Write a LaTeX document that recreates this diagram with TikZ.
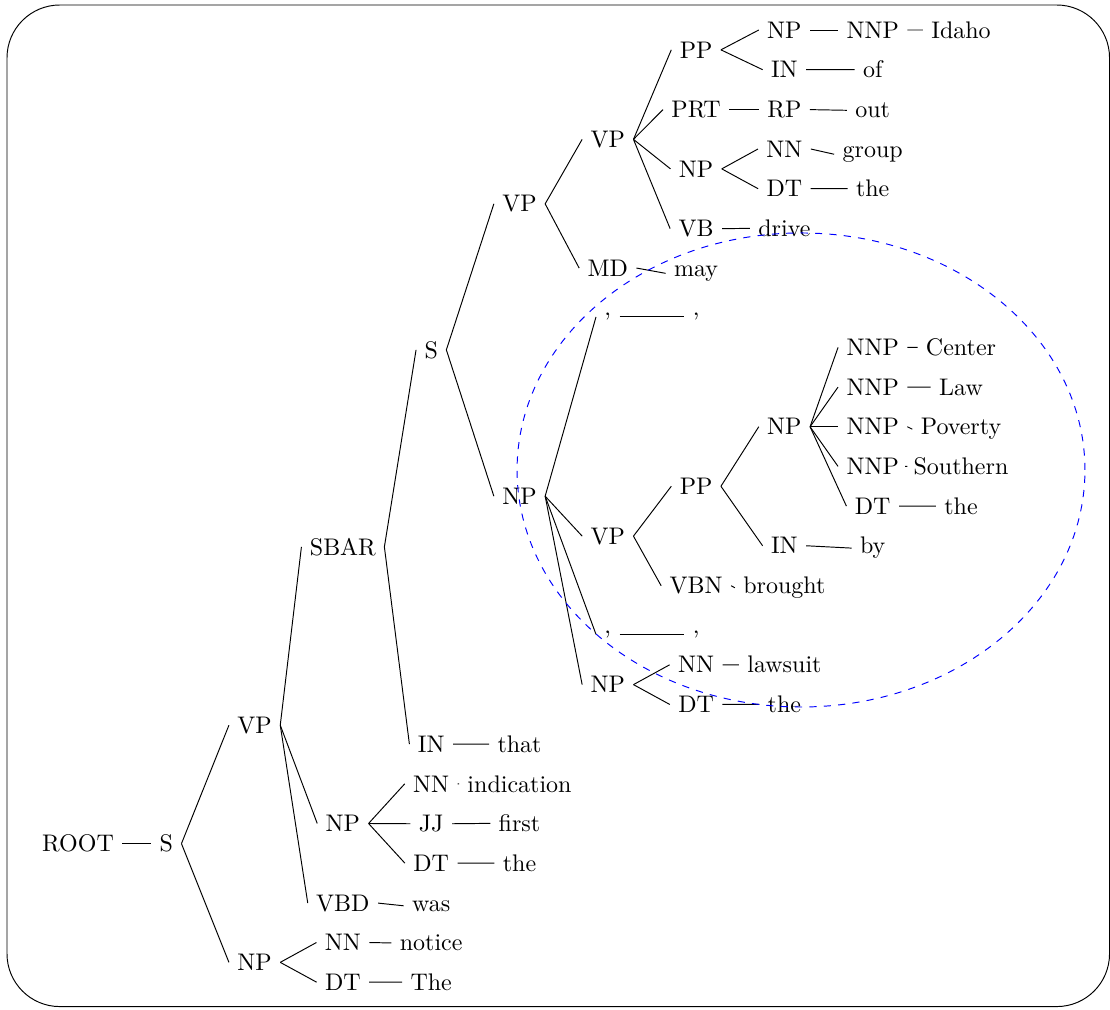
\documentclass[tikz,border=0pt]{standalone}
\begin{document}
\begin{tikzpicture}[x=36.79pt,y=-16.53pt,every node/.style={anchor=base,yshift=-3.42pt}]
\useasboundingbox (-0.8834,-0.7562) rectangle (11.6874,24.679);
\draw[rounded corners=22pt] (-0.8041,-0.630) rectangle (11.682,24.615);
\node (root) at (0,20.5078) {ROOT};
\node (s) at (1,20.5078) {S};
\node (vp) at (2,17.5156) {VP};
\node (np) at (2,23.5) {NP};
\node (sbar) at (3,13.0313) {SBAR};
\node (npb) at (3,20) {NP};
\node (vbd) at (3,22) {VBD};
\node (nnb) at (3,23) {NN};
\node (dtb) at (3,24) {DT};
\node (sc) at (4,8.0625) {S};
\node (inc) at (4,18) {IN};
\node (nnc) at (4,19) {NN};
\node (jjc) at (4,20) {JJ};
\node (dtc) at (4,21) {DT};
\node (wwas) at (4,22) {was};
\node (wnotice) at (4,23) {notice};
\node (wThe) at (4,24) {The};
\node (vpd) at (5,4.375) {VP};
\node (npd) at (5,11.75) {NP};
\node (wthat) at (5,18) {that};
\node (windication) at (5,19) {indication};
\node (wfirst) at (5,20) {first};
\node (wthec) at (5,21) {the};
\node (vpe) at (6,2.75) {VP};
\node (mde) at (6,6) {MD};
\node (come) at (6,7) {,};
\node (vpf) at (6,12.75) {VP};
\node (comf) at (6,15) {,};
\node (npf) at (6,16.5) {NP};
\node (ppg) at (7,0.5) {PP};
\node (prtg) at (7,2) {PRT};
\node (npg) at (7,3.5) {NP};
\node (vbg) at (7,5) {VB};
\node (wmay) at (7,6) {may};
\node (wcome) at (7,7) {,};
\node (pph) at (7,11.5) {PP};
\node (vbnh) at (7,14) {VBN};
\node (wcomf) at (7,15) {,};
\node (nnh) at (7,16) {NN};
\node (dth) at (7,17) {DT};
\node (npi) at (8,0) {NP};
\node (ini) at (8,1) {IN};
\node (rpi) at (8,2) {RP};
\node (nni) at (8,3) {NN};
\node (dti) at (8,4) {DT};
\node (wdrive) at (8,5) {drive};
\node (npj) at (8,10) {NP};
\node (inj) at (8,13) {IN};
\node (wbrought) at (8,14) {brought};
\node (wlawsuit) at (8,16) {lawsuit};
\node (wtheh) at (8,17) {the};
\node (nnpk) at (9,0) {NNP};
\node (wof) at (9,1) {of};
\node (wout) at (9,2) {out};
\node (wgroup) at (9,3) {group};
\node (wthei) at (9,4) {the};
\node (nnpa) at (9,8) {NNP};
\node (nnpb) at (9,9) {NNP};
\node (nnpc) at (9,10) {NNP};
\node (nnpd) at (9,11) {NNP};
\node (dtl) at (9,12) {DT};
\node (wby) at (9,13) {by};
\node (wIdaho) at (10,0) {Idaho};
\node (wCenter) at (10,8) {Center};
\node (wLaw) at (10,9) {Law};
\node (wPoverty) at (10,10) {Poverty};
\node (wSouthern) at (10,11) {Southern};
\node (wthel) at (10,12) {the};
\foreach \a/\b in {root/s, s/vp, s/np, vp/sbar, vp/npb, vp/vbd, np/nnb, np/dtb,
  nnb/wnotice, dtb/wThe, vbd/wwas, npb/nnc, npb/jjc, npb/dtc, nnc/windication,
  jjc/wfirst, dtc/wthec, sbar/sc, sbar/inc, inc/wthat, sc/vpd, sc/npd,
  vpd/vpe, vpd/mde, mde/wmay, vpe/ppg, vpe/prtg, vpe/npg, vpe/vbg, vbg/wdrive,
  ppg/npi, ppg/ini, npi/nnpk, nnpk/wIdaho, ini/wof, prtg/rpi, rpi/wout,
  npg/nni, npg/dti, nni/wgroup, dti/wthei, npd/come, npd/vpf, npd/comf, npd/npf,
  come/wcome, comf/wcomf, vpf/pph, vpf/vbnh, vbnh/wbrought, pph/npj, pph/inj,
  inj/wby, npj/nnpa, npj/nnpb, npj/nnpc, npj/nnpd, npj/dtl, nnpa/wCenter,
  nnpb/wLaw, nnpc/wPoverty, nnpd/wSouthern, dtl/wthel, npf/nnh, npf/dth,
  nnh/wlawsuit, dth/wtheh}
  \draw (\a.east) -- (\b.west);
\draw[blue,dashed] (8.188,11.09) ellipse [x radius=118.3pt, y radius=98.75pt];
\end{tikzpicture}
\end{document}
